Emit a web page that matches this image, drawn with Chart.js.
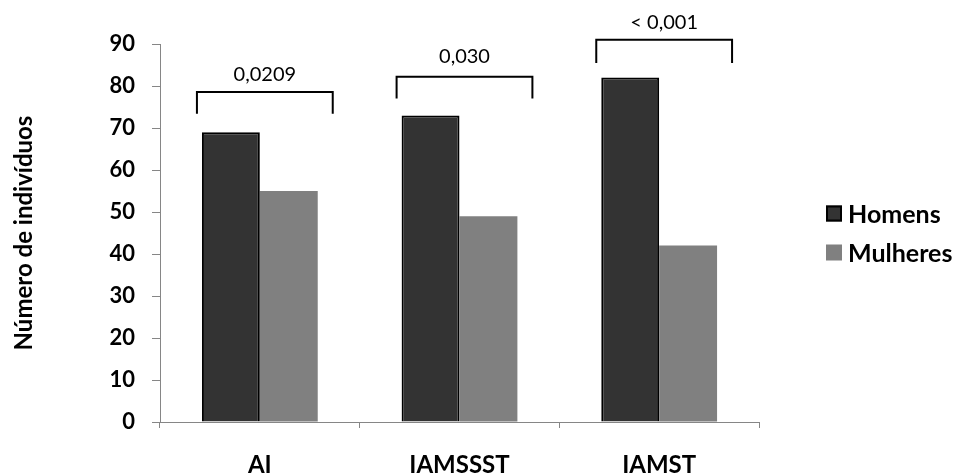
<!DOCTYPE html>
<html>
<head>
<meta charset="utf-8">
<script src="https://cdn.jsdelivr.net/npm/chart.js@4"></script>
<style>
  html, body { margin: 0; padding: 0; background: #fff; }
  #wrap { width: 955px; height: 474px; }
</style>
</head>
<body>
<div id="wrap"><canvas id="c" width="955" height="474"></canvas></div>
<script>
const categories = ['AI', 'IAMSSST', 'IAMST'];
const seriesNames = ['Homens', 'Mulheres'];
const homens = [69, 73, 82];
const mulheres = [55, 49, 42];
const pValues = ['0,0209', '0,030', '< 0,001'];
const bracketTop = [78.6, 82.2, 91.0];
const bracketLeg = [73.4, 77.0, 85.5];
const pLabelLevel = [82.8, 86.9, 95.2];
const yTicks = [0, 10, 20, 30, 40, 50, 60, 70, 80, 90];
const yTitle = 'Número de indivíduos';

const FONT = 'Lato, "Open Sans", "DejaVu Sans", sans-serif';
const colors = ['#333333', '#808080'];

const bracketPlugin = {
  id: 'brackets',
  afterDatasetsDraw(chart) {
    const ctx = chart.ctx;
    const ys = chart.scales.y;
    const m0 = chart.getDatasetMeta(0), m1 = chart.getDatasetMeta(1);
    ctx.save();
    ctx.strokeStyle = '#000';
    ctx.lineWidth = 2;
    ctx.fillStyle = '#000';
    ctx.font = '20px ' + FONT;
    ctx.textAlign = 'center';
    ctx.textBaseline = 'middle';
    pValues.forEach((p, i) => {
      const b0 = m0.data[i], b1 = m1.data[i];
      const left = b0.x - b0.width / 2 - 5;
      const right = b1.x + b1.width / 2 + 15;
      const yt = ys.getPixelForValue(bracketTop[i]);
      const yl = ys.getPixelForValue(bracketLeg[i]);
      ctx.beginPath();
      ctx.moveTo(left, yl);
      ctx.lineTo(left, yt);
      ctx.lineTo(right, yt);
      ctx.lineTo(right, yl);
      ctx.stroke();
      ctx.fillText(p, (left + right) / 2, ys.getPixelForValue(pLabelLevel[i]));
    });
    ctx.restore();
  }
};

const legendPlugin = {
  id: 'sideLegend',
  afterDraw(chart) {
    const ctx = chart.ctx;
    const a = chart.chartArea;
    const x = a.right + 67;
    const cy = (a.top + a.bottom) / 2;
    ctx.save();
    ctx.font = 'bold 25px ' + FONT;
    ctx.textBaseline = 'middle';
    ctx.textAlign = 'left';
    seriesNames.forEach((name, i) => {
      const y = cy + (i === 0 ? -19.5 : 19.5);
      ctx.fillStyle = colors[i];
      ctx.fillRect(x, y - 8, 16, 16);
      if (i === 0) {
        ctx.strokeStyle = '#000';
        ctx.lineWidth = 2;
        ctx.strokeRect(x + 1, y - 7, 14, 14);
      }
      ctx.fillStyle = '#000';
      ctx.fillText(name, x + 22, y + 1);
    });
    ctx.restore();
  }
};

new Chart(document.getElementById('c'), {
  type: 'bar',
  data: {
    labels: categories,
    datasets: [
      { label: seriesNames[0], data: homens, backgroundColor: colors[0], borderColor: '#000', borderWidth: 2,
        categoryPercentage: 0.58, barPercentage: 1.0 },
      { label: seriesNames[1], data: mulheres, backgroundColor: colors[1], borderWidth: 0,
        categoryPercentage: 0.58, barPercentage: 1.0 }
    ]
  },
  options: {
    responsive: false,
    animation: false,
    layout: { padding: { top: 44, right: 196, left: 0, bottom: 0 } },
    plugins: { legend: { display: false }, tooltip: { enabled: false } },
    scales: {
      x: {
        grid: { display: true, drawOnChartArea: false, drawTicks: true, tickLength: 6, color: '#868686', offset: true },
        border: { display: true, color: '#868686', width: 1 },
        ticks: { color: '#000', padding: 23, font: { family: FONT, size: 24, weight: 'bold' } },
        afterFit: s => { s.height = 52; }
      },
      y: {
        min: 0, max: 90,
        afterBuildTicks: s => { s.ticks = yTicks.map(v => ({ value: v })); },
        grid: { display: true, drawOnChartArea: false, drawTicks: true, tickLength: 8, color: '#868686' },
        border: { display: true, color: '#868686', width: 1 },
        ticks: { color: '#000', padding: 17, font: { family: FONT, size: 22, weight: 'bold' } },
        title: { display: true, text: yTitle, color: '#000', padding: { top: 10, bottom: 0 },
                 font: { family: FONT, size: 24, weight: 'bold' } },
        afterFit: s => { s.width = 160; }
      }
    }
  },
  plugins: [bracketPlugin, legendPlugin]
});
</script>
</body>
</html>
